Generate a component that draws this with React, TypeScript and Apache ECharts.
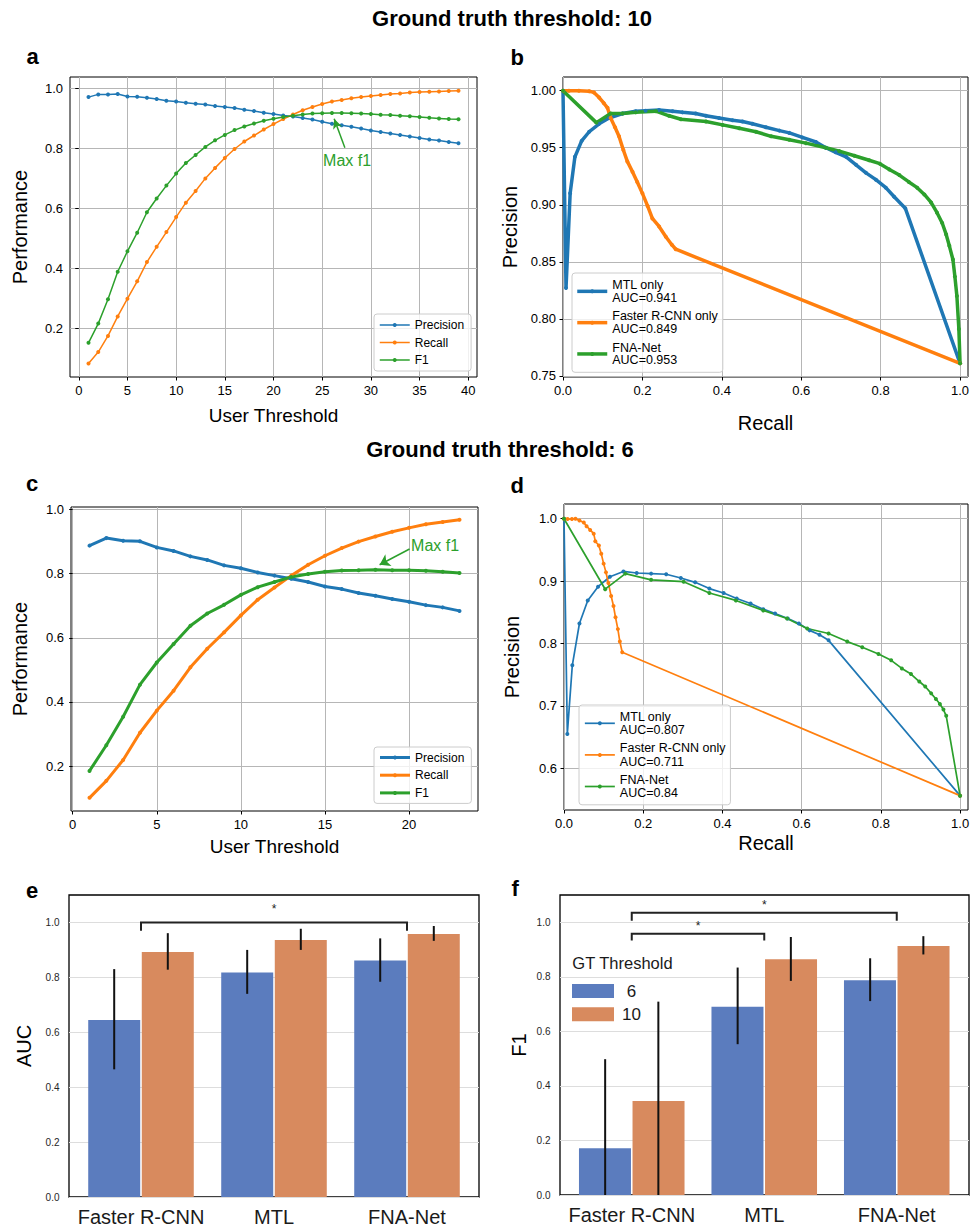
import React, { useEffect, useRef } from 'react';
import * as echarts from 'echarts';

const FONT = '"Liberation Sans", Arial, Helvetica, sans-serif';
const C_BLUE = '#1f77b4';
const C_ORANGE = '#ff7f0e';
const C_GREEN = '#2ca02c';
const BAR_BLUE = '#5b7cbe';
const BAR_ORANGE = '#d88a5e';

// ---------------- Panel a (GT threshold 10) ----------------
const thresholdsA = [1, 2, 3, 4, 5, 6, 7, 8, 9, 10, 11, 12, 13, 14, 15, 16, 17, 18, 19, 20, 21, 22, 23, 24, 25, 26, 27, 28, 29, 30, 31, 32, 33, 34, 35, 36, 37, 38, 39];
const precisionA = [0.972, 0.981, 0.981, 0.982, 0.974, 0.973, 0.970, 0.966, 0.960, 0.957, 0.953, 0.950, 0.947, 0.942, 0.939, 0.936, 0.930, 0.926, 0.920, 0.916, 0.911, 0.907, 0.902, 0.897, 0.890, 0.883, 0.878, 0.873, 0.867, 0.861, 0.856, 0.851, 0.846, 0.841, 0.836, 0.831, 0.827, 0.822, 0.818];
const recallA = [0.084, 0.122, 0.176, 0.241, 0.300, 0.358, 0.422, 0.473, 0.522, 0.572, 0.620, 0.659, 0.701, 0.736, 0.769, 0.799, 0.824, 0.844, 0.864, 0.882, 0.899, 0.914, 0.928, 0.939, 0.949, 0.957, 0.962, 0.968, 0.972, 0.976, 0.979, 0.982, 0.984, 0.987, 0.989, 0.990, 0.991, 0.992, 0.993];
const f1A = [0.153, 0.217, 0.298, 0.390, 0.458, 0.520, 0.588, 0.634, 0.677, 0.717, 0.752, 0.779, 0.806, 0.828, 0.846, 0.862, 0.874, 0.884, 0.893, 0.900, 0.906, 0.910, 0.914, 0.917, 0.918, 0.919, 0.919, 0.918, 0.917, 0.916, 0.913, 0.912, 0.910, 0.908, 0.906, 0.903, 0.901, 0.899, 0.898];
const maxF1ArrowA = [[27.33, 0.803], [26.23, 0.9]];
const maxF1TextA = [25.04, 0.761];

// ---------------- Panel b (PR curves, GT 10) ----------------
const mtlRecallB = [0, 0.0076, 0.018, 0.030, 0.047, 0.066, 0.091, 0.116, 0.150, 0.183, 0.208, 0.242, 0.276, 0.301, 0.334, 0.360, 0.393, 0.427, 0.452, 0.477, 0.511, 0.545, 0.570, 0.603, 0.637, 0.662, 0.687, 0.713, 0.738, 0.763, 0.788, 0.813, 0.834, 0.862, 1.0];
const mtlPrecisionB = [1.0, 0.827, 0.910, 0.942, 0.956, 0.964, 0.971, 0.976, 0.980, 0.982, 0.9825, 0.983, 0.982, 0.981, 0.980, 0.978, 0.976, 0.974, 0.973, 0.971, 0.968, 0.965, 0.963, 0.959, 0.955, 0.950, 0.946, 0.942, 0.935, 0.928, 0.922, 0.915, 0.907, 0.897, 0.761];
const frcnnRecallB = [0, 0.015, 0.040, 0.066, 0.078, 0.091, 0.103, 0.112, 0.120, 0.131, 0.141, 0.152, 0.162, 0.175, 0.187, 0.200, 0.213, 0.225, 0.242, 0.259, 0.274, 0.284, 1.0];
const frcnnPrecisionB = [1.0, 1.0, 1.0, 0.9995, 0.9985, 0.994, 0.989, 0.985, 0.976, 0.968, 0.960, 0.948, 0.938, 0.929, 0.920, 0.910, 0.899, 0.888, 0.881, 0.872, 0.865, 0.861, 0.761];
const fnaRecallB = [0, 0.084, 0.120, 0.150, 0.183, 0.234, 0.267, 0.297, 0.360, 0.402, 0.444, 0.486, 0.524, 0.570, 0.612, 0.662, 0.696, 0.734, 0.771, 0.798, 0.822, 0.847, 0.871, 0.892, 0.910, 0.927, 0.942, 0.955, 0.965, 0.973, 0.982, 0.987, 0.992, 0.997, 1.0];
const fnaPrecisionB = [1.0, 0.972, 0.980, 0.980, 0.981, 0.982, 0.978, 0.975, 0.973, 0.970, 0.967, 0.964, 0.960, 0.957, 0.954, 0.950, 0.947, 0.943, 0.939, 0.936, 0.931, 0.926, 0.920, 0.915, 0.909, 0.902, 0.893, 0.884, 0.874, 0.864, 0.852, 0.837, 0.820, 0.791, 0.761];
const aucB = ['0.941', '0.849', '0.953'];

// ---------------- Panel c (GT threshold 6) ----------------
const thresholdsC = [1, 2, 3, 4, 5, 6, 7, 8, 9, 10, 11, 12, 13, 14, 15, 16, 17, 18, 19, 20, 21, 22, 23];
const precisionC = [0.8875, 0.911, 0.903, 0.901, 0.882, 0.871, 0.854, 0.843, 0.826, 0.817, 0.804, 0.794, 0.784, 0.774, 0.760, 0.752, 0.740, 0.731, 0.721, 0.7125, 0.702, 0.695, 0.684];
const recallC = [0.101, 0.154, 0.219, 0.304, 0.373, 0.435, 0.508, 0.566, 0.617, 0.670, 0.719, 0.757, 0.794, 0.828, 0.856, 0.880, 0.900, 0.916, 0.931, 0.943, 0.954, 0.961, 0.968];
const f1C = [0.185, 0.265, 0.354, 0.454, 0.523, 0.581, 0.6375, 0.676, 0.703, 0.734, 0.758, 0.774, 0.790, 0.799, 0.806, 0.810, 0.811, 0.8125, 0.811, 0.811, 0.809, 0.806, 0.802];
const maxF1ArrowC = [[20.03, 0.877], [18.25, 0.828]];
const maxF1TextC = [20.09, 0.888];

// ---------------- Panel d (PR curves, GT 6) ----------------
const mtlRecallD = [0, 0.0084, 0.021, 0.039, 0.060, 0.086, 0.116, 0.150, 0.1835, 0.220, 0.258, 0.295, 0.331, 0.367, 0.403, 0.436, 0.471, 0.503, 0.533, 0.565, 0.593, 0.620, 0.645, 0.668, 1.0];
const mtlPrecisionD = [1.0, 0.655, 0.765, 0.832, 0.869, 0.891, 0.907, 0.9155, 0.913, 0.912, 0.911, 0.905, 0.898, 0.888, 0.881, 0.872, 0.864, 0.855, 0.848, 0.840, 0.832, 0.821, 0.814, 0.805, 0.556];
const frcnnRecallD = [0, 0.009, 0.020, 0.029, 0.039, 0.050, 0.057, 0.066, 0.075, 0.079, 0.088, 0.094, 0.100, 0.106, 0.112, 0.119, 0.125, 0.130, 0.136, 0.141, 0.147, 1.0];
const frcnnPrecisionD = [1.0, 0.9995, 0.9995, 1.0, 0.997, 0.994, 0.988, 0.982, 0.976, 0.964, 0.957, 0.944, 0.928, 0.914, 0.897, 0.876, 0.860, 0.842, 0.823, 0.803, 0.786, 0.556];
const fnaRecallD = [0, 0.104, 0.155, 0.220, 0.302, 0.367, 0.434, 0.503, 0.563, 0.614, 0.668, 0.715, 0.753, 0.794, 0.826, 0.853, 0.876, 0.897, 0.912, 0.927, 0.939, 0.949, 0.958, 0.965, 1.0];
const fnaPrecisionD = [1.0, 0.887, 0.912, 0.902, 0.899, 0.881, 0.869, 0.853, 0.840, 0.824, 0.816, 0.803, 0.794, 0.783, 0.773, 0.760, 0.751, 0.739, 0.731, 0.720, 0.711, 0.703, 0.694, 0.684, 0.556];
const aucD = ['0.807', '0.711', '0.84'];

// ---------------- Panels e / f (bars) ----------------
const categories = ['Faster R-CNN', 'MTL', 'FNA-Net'];
const aucGt6 = [0.645, 0.8175, 0.861];
const aucGt6Low = [0.465, 0.740, 0.784];
const aucGt6High = [0.830, 0.900, 0.942];
const aucGt10 = [0.892, 0.936, 0.958];
const aucGt10Low = [0.828, 0.900, 0.933];
const aucGt10High = [0.961, 0.977, 0.987];
const f1Gt6 = [0.171, 0.690, 0.787];
const f1Gt6Low = [-0.156, 0.553, 0.711];
const f1Gt6High = [0.498, 0.834, 0.868];
const f1Gt10 = [0.345, 0.864, 0.913];
const f1Gt10Low = [-0.019, 0.785, 0.882];
const f1Gt10High = [0.709, 0.946, 0.949];
// significance brackets: [fromCategory, toCategory, lineY, tickEndY, starY]
const bracketsE = [[0, 2, 1.0, 0.97, 1.05]];
const bracketsF = [[0, 2, 1.035, 1.006, 1.063], [0, 1, 0.958, 0.933, 0.987]];

// ---------------- tick values ----------------
const ticksThreshA = [0, 5, 10, 15, 20, 25, 30, 35, 40];
const ticksThreshC = [0, 5, 10, 15, 20];
const ticksPerf = [0.2, 0.4, 0.6, 0.8, 1.0];
const ticksRecall = [0, 0.2, 0.4, 0.6, 0.8, 1.0];
const ticksPrecB = [0.75, 0.8, 0.85, 0.9, 0.95, 1.0];
const ticksPrecD = [0.6, 0.7, 0.8, 0.9, 1.0];
const ticksBar = [0, 0.2, 0.4, 0.6, 0.8, 1.0];

const zip = (xs: number[], ys: number[]) => xs.map((x, i) => [x, ys[i]]);

function valueAxis(grid: number, min: number, max: number, ticks: number[], fmt: (v: number) => string, name: string, nameGap: number, nameSize: number, isY: boolean): any {
  return {
    gridIndex: grid,
    type: 'value',
    min,
    max,
    name,
    nameLocation: 'middle',
    nameGap,
    nameRotate: isY ? 90 : 0,
    nameTextStyle: { color: '#000', fontSize: nameSize, fontFamily: FONT },
    axisLine: { show: false },
    axisTick: { show: true, inside: false, length: 3.5, customValues: ticks, lineStyle: { color: '#000', width: 1 } },
    axisLabel: { customValues: ticks, formatter: fmt, color: '#000', fontSize: 13, fontFamily: FONT, margin: 7 },
    splitLine: { show: true, lineStyle: { color: '#b6b6b6', width: 1 } },
  };
}

function lineSeries(name: string, data: number[][], color: string, width: number, axis: number, extra: any = {}): any {
  return {
    type: 'line',
    name,
    xAxisIndex: axis,
    yAxisIndex: axis,
    data,
    symbol: 'circle',
    symbolSize: 4,
    showSymbol: true,
    lineStyle: { color, width },
    itemStyle: { color, borderWidth: 0 },
    emphasis: { disabled: true },
    silent: true,
    ...extra,
  };
}

function maxF1Marks(arrow: number[][], text: number[], head: number[]): any {
  return {
    markLine: {
      silent: true,
      symbol: ['none', 'arrow'],
      symbolSize: head,
      label: { show: false },
      lineStyle: { color: C_GREEN, width: 1.5, type: 'solid' },
      emphasis: { disabled: true },
      data: [[{ coord: arrow[0] }, { coord: arrow[1] }]],
    },
    markPoint: {
      silent: true,
      symbol: 'rect',
      symbolSize: 1,
      itemStyle: { color: 'rgba(0,0,0,0)' },
      label: { show: true, position: 'right', distance: 0, formatter: 'Max f1', color: C_GREEN, fontSize: 16, fontFamily: FONT },
      data: [{ coord: text }],
    },
  };
}

function errorSeries(axis: number, lows: number[], highs: number[], offset: number): any {
  return {
    type: 'custom',
    xAxisIndex: axis,
    yAxisIndex: axis,
    silent: true,
    clip: true,
    z: 5,
    data: lows.map((l, i) => [i, l, highs[i]]),
    renderItem: (_p: any, api: any) => {
      const a = api.coord([api.value(0), api.value(1)]);
      const b = api.coord([api.value(0), api.value(2)]);
      return {
        type: 'line',
        shape: { x1: a[0] + offset, y1: a[1], x2: b[0] + offset, y2: b[1] },
        style: { stroke: '#111', lineWidth: 2 },
      };
    },
  };
}

function bracketSeries(axis: number, brackets: number[][]): any {
  return {
    type: 'custom',
    xAxisIndex: axis,
    yAxisIndex: axis,
    silent: true,
    clip: false,
    z: 6,
    data: brackets,
    renderItem: (_p: any, api: any) => {
      const p1 = api.coord([api.value(0), api.value(3)]);
      const p2 = api.coord([api.value(0), api.value(2)]);
      const p3 = api.coord([api.value(1), api.value(2)]);
      const p4 = api.coord([api.value(1), api.value(3)]);
      const s = api.coord([api.value(0), api.value(4)]);
      return {
        type: 'group',
        children: [
          { type: 'polyline', shape: { points: [p1, p2, p3, p4] }, style: { stroke: '#222', lineWidth: 2, fill: 'none' } },
          { type: 'text', x: (p2[0] + p3[0]) / 2, y: s[1], style: { text: '*', fontSize: 12, fontFamily: FONT, fill: '#222', align: 'center', verticalAlign: 'middle' } },
        ],
      };
    },
  };
}

const legendLabels: Record<string, string> = {
  'Precision|a': 'Precision', 'Recall|a': 'Recall', 'F1|a': 'F1',
  'Precision|c': 'Precision', 'Recall|c': 'Recall', 'F1|c': 'F1',
  'MTL only|b': 'MTL only\nAUC=' + aucB[0],
  'Faster R-CNN only|b': 'Faster R-CNN only\nAUC=' + aucB[1],
  'FNA-Net|b': 'FNA-Net\nAUC=' + aucB[2],
  'MTL only|d': 'MTL only\nAUC=' + aucD[0],
  'Faster R-CNN only|d': 'Faster R-CNN only\nAUC=' + aucD[1],
  'FNA-Net|d': 'FNA-Net\nAUC=' + aucD[2],
};

function lineLegend(names: string[], left: number, top: number, lineWidth: number, fontSize: number, lineHeight: number, gap: number, padding: number[]): any {
  return {
    orient: 'vertical',
    left,
    top,
    data: names,
    formatter: (n: string) => legendLabels[n] || n,
    selectedMode: false,
    itemWidth: 30,
    itemHeight: 5,
    itemGap: gap,
    padding,
    backgroundColor: 'rgba(255,255,255,0.8)',
    borderColor: '#cccccc',
    borderWidth: 1,
    borderRadius: 3,
    lineStyle: { width: lineWidth },
    textStyle: { fontSize, lineHeight, fontFamily: FONT, color: '#000' },
  };
}

const fmt1 = (v: number) => v.toFixed(1);
const fmt2 = (v: number) => v.toFixed(2);
const fmt0 = (v: number) => String(Math.round(v));

const barCatAxis = (grid: number): any => ({
  gridIndex: grid,
  type: 'category',
  data: categories,
  axisLine: { show: false },
  axisTick: { show: false },
  splitLine: { show: false },
  axisLabel: { interval: 0, hideOverlap: false, fontSize: 20, color: '#1a1a1a', fontFamily: FONT, margin: 10 },
});

const barFrameY = (grid: number, name: string, nameGap: number): any => ({
  gridIndex: grid,
  type: 'value',
  min: 0,
  max: 1.1,
  name,
  nameLocation: 'middle',
  nameGap,
  nameRotate: 90,
  nameTextStyle: { color: '#000', fontSize: 20, fontFamily: FONT },
  axisLine: { show: false },
  axisTick: { show: false, customValues: ticksBar },
  axisLabel: { customValues: ticksBar, formatter: fmt1, color: '#262626', fontSize: 10, fontFamily: FONT, margin: 9.5 },
  splitLine: { show: true, lineStyle: { color: '#dddddd', width: 1 } },
});

const hiddenValue = (grid: number, min: number, max: number): any => ({ gridIndex: grid, type: 'value', min, max, show: false });

const frameGrid = { show: true, borderColor: '#000', borderWidth: 1, backgroundColor: 'transparent' };

const option: any = {
  animation: false,
  textStyle: { fontFamily: FONT },
  grid: [
    { left: 70, top: 77, width: 407, height: 300, ...frameGrid },
    { left: 563, top: 77, width: 405, height: 300, ...frameGrid },
    { left: 71, top: 507, width: 407, height: 304, ...frameGrid },
    { left: 564, top: 504, width: 404, height: 306, ...frameGrid },
    { left: 69, top: 895, width: 410, height: 302, ...frameGrid, borderWidth: 1.3 },
    { left: 74.5, top: 895, width: 399, height: 302, show: false },
    { left: 560, top: 895, width: 409, height: 300, ...frameGrid, borderWidth: 1.3 },
    { left: 565.5, top: 895, width: 397.5, height: 300, show: false },
  ],
  xAxis: [
    valueAxis(0, -0.9, 40.9, ticksThreshA, fmt0, 'User Threshold', 29, 19, false),
    valueAxis(1, 0, 1.02, ticksRecall, fmt1, 'Recall', 36, 20, false),
    valueAxis(2, -0.1, 24.1, ticksThreshC, fmt0, 'User Threshold', 26, 19, false),
    valueAxis(3, 0, 1.02, ticksRecall, fmt1, 'Recall', 23, 20, false),
    hiddenValue(4, 0, 1),
    barCatAxis(5),
    hiddenValue(6, 0, 1),
    barCatAxis(7),
  ],
  yAxis: [
    valueAxis(0, 0.039, 1.039, ticksPerf, fmt1, 'Performance', 40, 20, true),
    valueAxis(1, 0.749, 1.012, ticksPrecB, fmt2, 'Precision', 43, 20, true),
    valueAxis(2, 0.060, 1.008, ticksPerf, fmt1, 'Performance', 41, 20, true),
    valueAxis(3, 0.533, 1.0236, ticksPrecD, fmt1, 'Precision', 42, 20, true),
    barFrameY(4, 'AUC', 35),
    hiddenValue(5, 0, 1.1),
    barFrameY(6, 'F1', 31),
    hiddenValue(7, 0, 1.1),
  ],
  legend: [
    lineLegend(['Precision|a', 'Recall|a', 'F1|a'], 374, 314, 1.5, 12, 14, 3.5, [4, 7, 4, 5]),
    lineLegend(['MTL only|b', 'Faster R-CNN only|b', 'FNA-Net|b'], 572, 273, 3.5, 12.5, 12.7, 5.6, [5.5, 5, 5.5, 3.5]),
    lineLegend(['Precision|c', 'Recall|c', 'F1|c'], 374, 747, 3, 12, 14, 3.7, [3.5, 7, 3.5, 4.5]),
    lineLegend(['MTL only|d', 'Faster R-CNN only|d', 'FNA-Net|d'], 579, 705, 1.7, 12.5, 13.3, 5, [5, 5, 5, 5]),
    {
      orient: 'vertical',
      left: 572,
      top: 982.5,
      data: ['6', '10'],
      selectedMode: false,
      icon: 'rect',
      itemWidth: 42,
      itemHeight: 14,
      itemGap: 6.3,
      padding: 0,
      itemStyle: { borderWidth: 0 },
      formatter: (n: string) => '{v|' + n + '}',
      textStyle: {
        fontFamily: FONT,
        rich: { v: { width: 25, align: 'center', fontSize: 17, lineHeight: 17, fontFamily: FONT, color: '#1a1a1a' } },
      },
    },
  ],
  graphic: [
    { type: 'text', x: 512, y: 18, style: { text: 'Ground truth threshold: 10', fontSize: 22, fontWeight: 'bold', fontFamily: FONT, fill: '#000', align: 'center', verticalAlign: 'middle' } },
    { type: 'text', x: 500, y: 449, style: { text: 'Ground truth threshold: 6', fontSize: 22, fontWeight: 'bold', fontFamily: FONT, fill: '#000', align: 'center', verticalAlign: 'middle' } },
    { type: 'text', x: 26.5, y: 56, style: { text: 'a', fontSize: 22, fontWeight: 'bold', fontFamily: FONT, fill: '#000', align: 'left', verticalAlign: 'middle' } },
    { type: 'text', x: 510.5, y: 57.5, style: { text: 'b', fontSize: 22, fontWeight: 'bold', fontFamily: FONT, fill: '#000', align: 'left', verticalAlign: 'middle' } },
    { type: 'text', x: 26, y: 483, style: { text: 'c', fontSize: 22, fontWeight: 'bold', fontFamily: FONT, fill: '#000', align: 'left', verticalAlign: 'middle' } },
    { type: 'text', x: 510.5, y: 485.5, style: { text: 'd', fontSize: 22, fontWeight: 'bold', fontFamily: FONT, fill: '#000', align: 'left', verticalAlign: 'middle' } },
    { type: 'text', x: 26, y: 890.5, style: { text: 'e', fontSize: 22, fontWeight: 'bold', fontFamily: FONT, fill: '#000', align: 'left', verticalAlign: 'middle' } },
    { type: 'text', x: 511.5, y: 888.5, style: { text: 'f', fontSize: 22, fontWeight: 'bold', fontFamily: FONT, fill: '#000', align: 'left', verticalAlign: 'middle' } },
    { type: 'text', x: 572.3, y: 963, style: { text: 'GT Threshold', fontSize: 16.5, fontFamily: FONT, fill: '#1a1a1a', align: 'left', verticalAlign: 'middle' } },
  ],
  series: [
    // a
    lineSeries('Precision|a', zip(thresholdsA, precisionA), C_BLUE, 1.5, 0),
    lineSeries('Recall|a', zip(thresholdsA, recallA), C_ORANGE, 1.5, 0),
    lineSeries('F1|a', zip(thresholdsA, f1A), C_GREEN, 1.5, 0, maxF1Marks(maxF1ArrowA, maxF1TextA, [7, 10])),
    // b
    lineSeries('MTL only|b', zip(mtlRecallB, mtlPrecisionB), C_BLUE, 3.5, 1),
    lineSeries('Faster R-CNN only|b', zip(frcnnRecallB, frcnnPrecisionB), C_ORANGE, 3.5, 1),
    lineSeries('FNA-Net|b', zip(fnaRecallB, fnaPrecisionB), C_GREEN, 3.5, 1),
    // c
    lineSeries('Precision|c', zip(thresholdsC, precisionC), C_BLUE, 3, 2),
    lineSeries('Recall|c', zip(thresholdsC, recallC), C_ORANGE, 3, 2),
    lineSeries('F1|c', zip(thresholdsC, f1C), C_GREEN, 3, 2, maxF1Marks(maxF1ArrowC, maxF1TextC, [10, 10])),
    // d
    lineSeries('MTL only|d', zip(mtlRecallD, mtlPrecisionD), C_BLUE, 1.7, 3),
    lineSeries('Faster R-CNN only|d', zip(frcnnRecallD, frcnnPrecisionD), C_ORANGE, 1.7, 3),
    lineSeries('FNA-Net|d', zip(fnaRecallD, fnaPrecisionD), C_GREEN, 1.7, 3),
    // e
    { type: 'bar', name: '6|e', xAxisIndex: 5, yAxisIndex: 5, data: aucGt6, barWidth: 52, barGap: '3%', itemStyle: { color: BAR_BLUE }, silent: true },
    { type: 'bar', name: '10|e', xAxisIndex: 5, yAxisIndex: 5, data: aucGt10, barWidth: 52, barGap: '3%', itemStyle: { color: BAR_ORANGE }, silent: true },
    errorSeries(5, aucGt6Low, aucGt6High, -26.8),
    errorSeries(5, aucGt10Low, aucGt10High, 26.8),
    bracketSeries(5, bracketsE),
    // f
    { type: 'bar', name: '6', xAxisIndex: 7, yAxisIndex: 7, data: f1Gt6, barWidth: 52, barGap: '3%', itemStyle: { color: BAR_BLUE }, silent: true },
    { type: 'bar', name: '10', xAxisIndex: 7, yAxisIndex: 7, data: f1Gt10, barWidth: 52, barGap: '3%', itemStyle: { color: BAR_ORANGE }, silent: true },
    errorSeries(7, f1Gt6Low, f1Gt6High, -26.6),
    errorSeries(7, f1Gt10Low, f1Gt10High, 26.6),
    bracketSeries(7, bracketsF),
  ],
};

export default function App() {
  const ref = useRef<HTMLDivElement>(null);
  useEffect(() => {
    const el = ref.current;
    if (!el) return;
    const chart = echarts.init(el, null, { renderer: 'svg' });
    chart.setOption(option);
    return () => {
      chart.dispose();
    };
  }, []);
  return (
    <div
      ref={ref}
      style={{ position: 'absolute', left: 0, top: 0, width: 973, height: 1227, background: '#ffffff' }}
    />
  );
}
